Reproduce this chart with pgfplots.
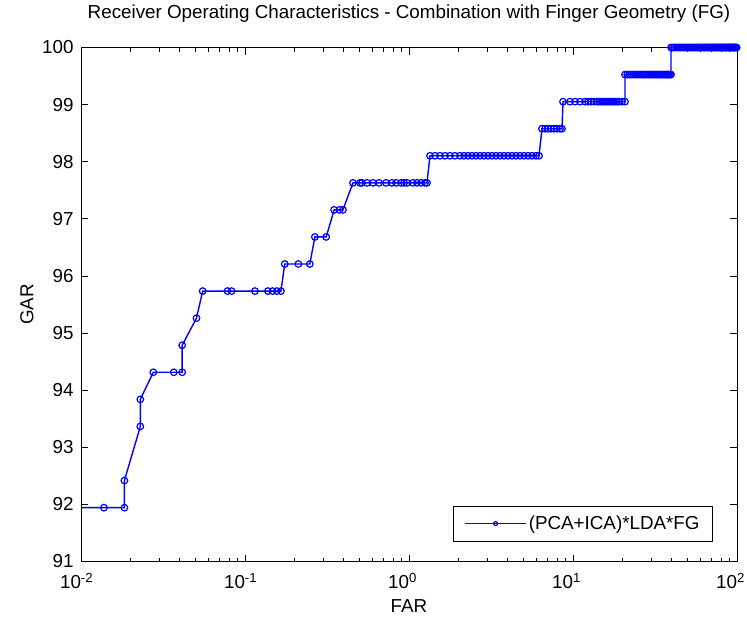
\documentclass[border=0pt]{standalone}
\usepackage{fontspec}
\setmainfont{Liberation Sans}
\usepackage{pgfplots}
\pgfplotsset{compat=1.18}
\pgfplotstableread{
far gar
0.0092 91.943
0.0138 91.943
0.0184 91.943
0.0184 92.418
0.0230 93.365
0.0230 93.839
0.0276 94.313
0.0368 94.313
0.0414 94.313
0.0414 94.787
0.0506 95.261
0.0552 95.735
0.0782 95.735
0.0828 95.735
0.1150 95.735
0.1380 95.735
0.1472 95.735
0.1564 95.735
0.1656 95.735
0.1748 96.209
0.2116 96.209
0.2484 96.209
0.2668 96.683
0.3128 96.683
0.3496 97.157
0.3772 97.157
0.3956 97.157
0.4555 97.630
0.5026 97.630
0.5168 97.630
0.5543 97.630
0.6033 97.630
0.6563 97.630
0.7240 97.630
0.7876 97.630
0.8331 97.630
0.8939 97.630
0.9323 97.630
0.9723 97.630
1.0578 97.630
1.1189 97.630
1.1834 97.630
1.2518 97.630
1.2875 97.630
1.343 98.104
1.441 98.104
1.545 98.104
1.658 98.104
1.778 98.104
1.907 98.104
2.046 98.104
2.164 98.104
2.289 98.104
2.422 98.104
2.562 98.104
2.710 98.104
2.866 98.104
3.032 98.104
3.207 98.104
3.392 98.104
3.588 98.104
3.795 98.104
4.014 98.104
4.246 98.104
4.491 98.104
4.751 98.104
5.025 98.104
5.315 98.104
5.623 98.104
5.947 98.104
6.203 98.104
6.471 98.578
6.750 98.578
7.040 98.578
7.343 98.578
7.658 98.578
7.987 98.578
8.331 98.578
8.569 98.578
8.690 99.052
9.587 99.052
10.285 99.052
11.033 99.052
11.836 99.052
12.346 99.052
12.878 99.052
13.43 99.052
14.01 99.052
14.41 99.052
14.82 99.052
15.24 99.052
15.67 99.052
16.12 99.052
16.58 99.052
17.05 99.052
17.54 99.052
18.04 99.052
18.55 99.052
19.08 99.052
19.90 99.052
20.75 99.052
20.75 99.526
21.4 99.526
22.1 99.526
22.8 99.526
23.5 99.526
24.2 99.526
24.9 99.526
25.6 99.526
26.3 99.526
27.0 99.526
27.7 99.526
28.4 99.526
29.1 99.526
29.8 99.526
30.5 99.526
31.2 99.526
31.9 99.526
32.6 99.526
33.3 99.526
34.0 99.526
34.7 99.526
35.4 99.526
36.1 99.526
36.8 99.526
37.5 99.526
38.2 99.526
38.9 99.526
39.6 99.526
39.6 100
40.5 100
41.5 100
42.5 100
43.5 100
44.5 100
45.5 100
46.5 100
47.5 100
48.5 100
49.5 100
50.5 100
51.5 100
52.5 100
53.5 100
54.5 100
55.5 100
56.5 100
57.5 100
58.5 100
59.5 100
60.5 100
61.5 100
62.5 100
63.5 100
64.5 100
65.5 100
66.5 100
67.5 100
68.5 100
69.5 100
70.5 100
71.5 100
72.5 100
73.5 100
74.5 100
75.5 100
76.5 100
77.5 100
78.5 100
79.5 100
80.5 100
81.5 100
82.5 100
83.5 100
84.5 100
85.5 100
86.5 100
87.5 100
88.5 100
89.5 100
90.5 100
91.5 100
92.5 100
93.5 100
94.5 100
95.5 100
96.5 100
97.5 100
98.5 100
99.5 100
}\roc
\definecolor{mblue}{RGB}{0,0,255}
\newcommand{\ff}{\fontsize{18.8bp}{22bp}\selectfont}
\newcommand{\dl}[1]{\llap{10}\rlap{\textsuperscript{#1}}}
\begin{document}
\begin{tikzpicture}
\useasboundingbox (-81bp,-59.5bp) rectangle (666bp,561.5bp);
\begin{semilogxaxis}[
  scale only axis, width=656bp, height=514bp,
  xmin=0.01, xmax=100, ymin=91, ymax=100,
  xtick={0.01,0.1,1,10,100},
  xticklabels={\dl{-2},\dl{-1},\dl{0},\dl{1},\dl{2}},
  minor xtick={0.02,0.03,0.04,0.05,0.06,0.07,0.08,0.09,0.2,0.3,0.4,0.5,0.6,0.7,0.8,0.9,2,3,4,5,6,7,8,9,20,30,40,50,60,70,80,90},
  ytick={91,92,...,100},
  /pgf/number format/assume math mode=true,
  tick label style={font=\ff, black},
  yticklabel style={xshift=-4bp},
  xticklabel style={yshift=-8bp},
  major tick length=7bp, minor tick length=4bp,
  tick style={black, line width=0.8bp},
  axis line style={black, line width=0.9bp},
  axis on top,
  title={Receiver Operating Characteristics - Combination with Finger Geometry (FG)},
  title style={at={(0.5,1)}, anchor=base, yshift=23bp, font=\ff},
  xlabel={FAR}, ylabel={GAR},
  xlabel style={at={(axis description cs:0.5,-0.0866)}, anchor=center, font=\ff},
  ylabel style={at={(axis description cs:-0.0823,0.5)}, anchor=center, font=\ff},
  legend style={at={(axis description cs:0.9634,0.0389)}, anchor=south east, draw=black, line width=0.8bp, fill=white, font=\ff, inner xsep=11bp, inner ysep=8bp},
  legend image code/.code={\draw[mblue, line width=1.4bp] (0bp,0bp) -- (61bp,0bp); \draw[#1, mark size=2bp] plot coordinates {(30.5bp,0bp)};},
]
\addplot[mblue, line width=1.4bp, forget plot] table[x=far, y=gar] {\roc};
\addplot[mblue, only marks, mark=o, mark size=3.3bp, mark options={line width=1.2bp}, skip coords between index={0}{1}] table[x=far, y=gar] {\roc};
\addlegendentry{(PCA+ICA)*LDA*FG}
\end{semilogxaxis}
\end{tikzpicture}
\end{document}
